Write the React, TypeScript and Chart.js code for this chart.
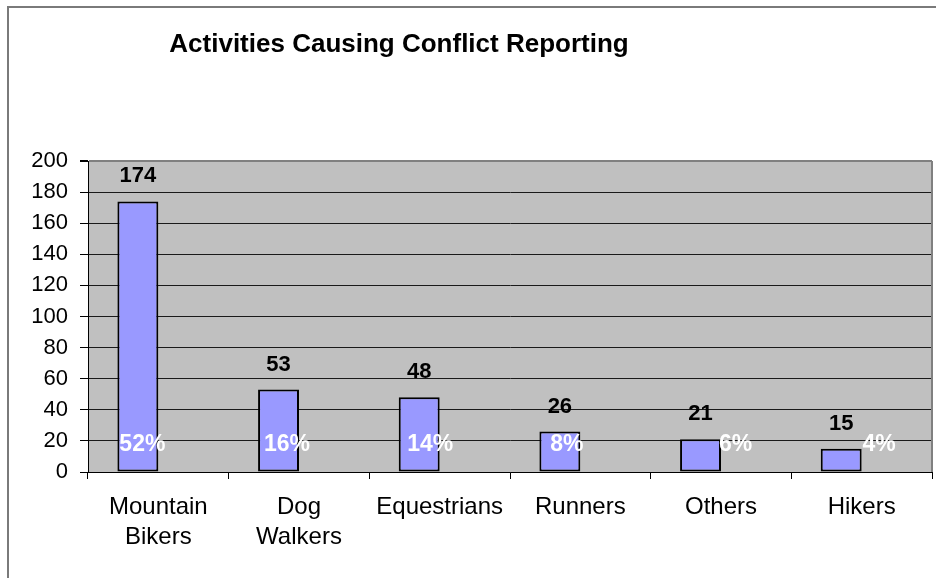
import React, { useEffect, useRef } from "react";
import { Chart, registerables } from "chart.js";

Chart.register(...registerables);

const categories: (string | string[])[] = [
  ["Mountain", "Bikers"],
  ["Dog", "Walkers"],
  "Equestrians",
  "Runners",
  "Others",
  "Hikers",
];
const counts: number[] = [174, 53, 48, 26, 21, 15];
const percentLabels: string[] = ["52%", "16%", "14%", "8%", "6%", "4%"];
const yTicks: number[] = [0, 20, 40, 60, 80, 100, 120, 140, 160, 180, 200];
const titleText = "Activities Causing Conflict Reporting";

// styling / label placement (not data)
const FONT = '"Liberation Sans", Arial, Helvetica, sans-serif';
const pctOffsets = [4.5, 8.5, 11, 7, 35, 38];

const decorPlugin = {
  id: "decor",
  beforeDraw(chart: any) {
    const { ctx, chartArea } = chart;
    ctx.save();
    ctx.fillStyle = "#ffffff";
    ctx.fillRect(0, 0, chart.width, chart.height);
    ctx.fillStyle = "#C0C0C0";
    ctx.fillRect(chartArea.left, chartArea.top, chartArea.right - chartArea.left, chartArea.bottom - chartArea.top);
    // outer frame
    ctx.strokeStyle = "#7a7a7a";
    ctx.lineWidth = 2;
    ctx.beginPath();
    ctx.moveTo(8, chart.height);
    ctx.lineTo(8, 7);
    ctx.lineTo(chart.width, 7);
    ctx.stroke();
    ctx.restore();
  },
  beforeDatasetsDraw(chart: any) {
    const { ctx, chartArea } = chart;
    ctx.save();
    ctx.strokeStyle = "#808080";
    ctx.lineWidth = 2;
    ctx.beginPath();
    ctx.moveTo(chartArea.right, chartArea.top);
    ctx.lineTo(chartArea.right, chartArea.bottom);
    ctx.stroke();
    ctx.restore();
  },
  afterDraw(chart: any) {
    const { ctx } = chart;
    const meta = chart.getDatasetMeta(0);
    const yScale = chart.scales.y;
    ctx.save();
    // title
    ctx.fillStyle = "#000";
    ctx.font = `bold 26px ${FONT}`;
    ctx.textAlign = "center";
    ctx.textBaseline = "middle";
    ctx.fillText(titleText, 399, 45);
    // value labels
    ctx.font = `bold 22px ${FONT}`;
    meta.data.forEach((bar: any, i: number) => {
      ctx.fillStyle = "#000";
      ctx.fillText(String(counts[i]), bar.x, bar.y - 25);
    });
    // percent labels
    ctx.font = `bold 23px ${FONT}`;
    const py = yScale.getPixelForValue(17.5);
    meta.data.forEach((bar: any, i: number) => {
      ctx.fillStyle = "#ffffff";
      ctx.fillText(percentLabels[i], bar.x + pctOffsets[i], py);
    });
    ctx.restore();
  },
};

export default function App() {
  const canvasRef = useRef<HTMLCanvasElement | null>(null);

  useEffect(() => {
    const canvas = canvasRef.current;
    if (!canvas) return;
    const chart = new Chart(canvas, {
      type: "bar",
      data: {
        labels: categories,
        datasets: [
          {
            data: counts,
            backgroundColor: "#9999FF",
            borderColor: "#000000",
            borderWidth: 2,
            borderSkipped: false,
            categoryPercentage: 0.582,
            barPercentage: 1,
          },
          {
            data: counts.map(() => null),
            backgroundColor: "rgba(0,0,0,0)",
            categoryPercentage: 0.582,
            barPercentage: 1,
          },
        ],
      },
      options: {
        responsive: false,
        animation: false,
        devicePixelRatio: 1,
        layout: { padding: { top: 161, right: 4, left: 0, bottom: 0 } },
        plugins: {
          legend: { display: false },
          tooltip: { enabled: false },
          title: { display: false },
        },
        scales: {
          x: {
            grid: {
              offset: true,
              drawOnChartArea: false,
              drawTicks: true,
              tickLength: 7,
              color: "#000",
              lineWidth: 1,
            },
            border: { display: true, color: "#000", width: 1 },
            ticks: {
              color: "#000",
              font: { family: FONT, size: 24, lineHeight: 1.25 },
              padding: 13,
              maxRotation: 0,
              autoSkip: false,
            },
            afterFit(scale: any) {
              scale.height = 106;
            },
          },
          y: {
            min: 0,
            max: 200,
            afterBuildTicks(scale: any) {
              scale.ticks = yTicks.map((v) => ({ value: v }));
            },
            grid: {
              color: (ctx: any) => (ctx.tick && ctx.tick.value === 200 ? "#808080" : "#1a1a1a"),
              lineWidth: (ctx: any) => (ctx.tick && ctx.tick.value === 200 ? 2 : 1),
              tickColor: "#000",
              tickLength: 8,
              drawTicks: true,
            },
            border: { display: true, color: "#000", width: 1 },
            ticks: {
              color: "#000",
              font: { family: FONT, size: 22 },
              padding: 12,
            },
            afterFit(scale: any) {
              scale.width = 88;
            },
          },
        },
      },
      plugins: [decorPlugin],
    });
    return () => chart.destroy();
  }, []);

  return (
    <canvas
      ref={canvasRef}
      width={936}
      height={578}
      style={{ position: "absolute", left: 0, top: 0, width: 936, height: 578 }}
    />
  );
}
